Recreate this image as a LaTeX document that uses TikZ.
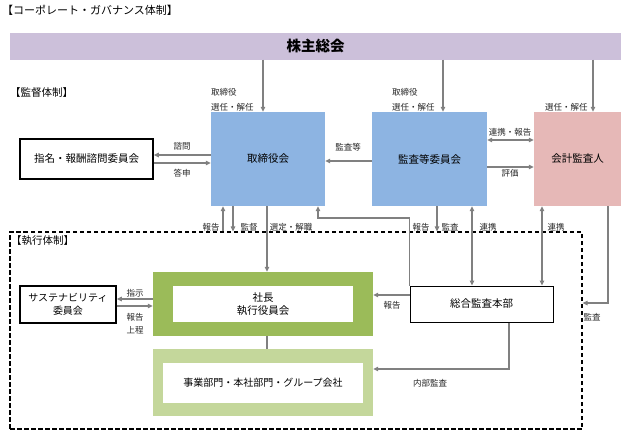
\documentclass[tikz,border=0pt]{standalone}
\usepackage{fontspec}
\setmainfont{Noto Sans CJK JP}
\usetikzlibrary{arrows.meta}
\definecolor{soukaiPurple}{RGB}{204,192,218}
\definecolor{boardBlue}{RGB}{141,180,226}
\definecolor{auditPink}{RGB}{230,184,183}
\definecolor{execGreen}{RGB}{155,187,89}
\definecolor{bizGreen}{RGB}{196,215,155}
\definecolor{arrowGray}{RGB}{128,128,128}
\tikzset{
  box/.style={rectangle, inner sep=0pt, align=center, font=\fontsize{10.5}{13}\selectfont},
  lbl/.style={inner sep=0pt, align=left, text=black!85, font=\fontsize{8.5}{13}\selectfont},
  grayline/.style={draw=arrowGray, line width=1.1pt},
  grayarrow/.style={grayline, -{Triangle[length=5pt,width=4.5pt]}},
  graydouble/.style={grayline, {Triangle[length=5pt,width=4.5pt]}-{Triangle[length=5pt,width=4.5pt]}}
}
\newcommand{\grayArrow}{\draw[grayarrow]}
\newcommand{\grayBoth}{\draw[graydouble]}
\newcommand{\grayLine}{\draw[grayline]}

\begin{document}
\begin{tikzpicture}[x=1pt,y=-1pt]
      \useasboundingbox (0,0) rectangle (629,437);

      % Title and the shareholders bar across the top
      \node[anchor=west, inner sep=0pt, font=\fontsize{11}{12}\selectfont] (title) at (2,10) {【コーポレート・ガバナンス体制】};
      \node[box, fill=soukaiPurple, minimum width=611, minimum height=27, font=\fontsize{14.5}{16}\selectfont\bfseries] (soukai) at (315.5,46) {株主総会};

      % Supervisory side
      \node[anchor=west, inner sep=0pt, font=\fontsize{10.5}{12}\selectfont] (kantoku) at (10,93) {【監督体制】};
      \node[box, fill=boardBlue, minimum width=114, minimum height=94] (board) at (268,159) {取締役会};
      \node[box, fill=boardBlue, minimum width=115, minimum height=94] (auditcom) at (429.5,159) {監査等委員会};
      \node[box, fill=auditPink, minimum width=87, minimum height=94] (accountant) at (577.5,159) {会計監査人};
      \node[box, draw, line width=1.5pt, minimum width=133, minimum height=40] (advisory) at (86.5,159) {指名・報酬諮問委員会};

      % Executive side, inside the dashed frame
      \node[draw, line width=1.2pt, dash pattern=on 4.5pt off 2.5pt, minimum width=572, minimum height=197] (execframe) at (296,330.5) {};
      \node[anchor=west, inner sep=0pt, font=\fontsize{10.5}{12}\selectfont] (shikkou) at (11,241) {【執行体制】};

      \node[box, fill=execGreen, minimum width=220, minimum height=64] (ceoframe) at (263,304) {};
      \node[box, fill=white, minimum width=180, minimum height=36] (ceo) at (263,304) {社長\\執行役員会};

      \node[box, fill=bizGreen, minimum width=220, minimum height=67] (bizframe) at (263,382.5) {};
      \node[box, fill=white, minimum width=200, minimum height=40, font=\fontsize{10}{12}\selectfont] (biz) at (263,383) {事業部門・本社部門・グループ会社};

      \node[box, draw, line width=1.5pt, minimum width=96, minimum height=37, font=\fontsize{10}{13}\selectfont] (sustain) at (68,304.5) {サステナビリティ\\委員会};
      \node[box, draw, line width=1pt, minimum width=143, minimum height=36] (intaudit) at (481.5,304) {総合監査本部};

      %% Elections by the shareholders
      \grayArrow (263,0 |- soukai.south) -- (263,0 |- board.north);
      \node[lbl, anchor=west] (lblElect1) at (211,99.5) {取締役\\[2pt]選任・解任};
      \grayArrow (443,0 |- soukai.south) -- (443,0 |- auditcom.north);
      \node[lbl, anchor=west] (lblElect2) at (392,99.5) {取締役\\[2pt]選任・解任};
      \grayArrow (593,0 |- soukai.south) -- (593,0 |- accountant.north);
      \node[lbl, anchor=west] (lblElect3) at (545,107) {選任・解任};

      %% Between the three supervisory boxes
      \grayArrow (auditcom.west |- 0,161) -- (board.east |- 0,161);
      \node[lbl] (lblAudit) at (348,147) {監査等};
      \grayBoth (auditcom.east |- 0,140) -- (accountant.west |- 0,140);
      \node[lbl] (lblLink) at (510,132) {連携・報告};
      \grayArrow (auditcom.east |- 0,167) -- (accountant.west |- 0,167);
      \node[lbl] (lblEval) at (510,173) {評価};

      %% Advisory committee
      \grayArrow (board.west |- 0,155) -- (advisory.east |- 0,155);
      \node[lbl] (lblConsult) at (182,146) {諮問};
      \grayArrow (advisory.east |- 0,163) -- (board.west |- 0,163);
      \node[lbl] (lblReply) at (182,173) {答申};

      %% Board down to the executive side
      \grayArrow (223,0 |- execframe.north) -- (223,0 |- board.south);
      \node[lbl] (lblReport1) at (211,227) {報告};
      \grayArrow (233,0 |- board.south) -- (233,0 |- execframe.north);
      \node[lbl] (lblSupervise) at (249,227) {監督};
      \grayArrow (267,0 |- board.south) -- (267,0 |- ceoframe.north);
      \node[lbl] (lblAppoint) at (291,227) {選定・解職};

      % Internal audit reports back up to the board
      \grayArrow (intaudit.north west) -- (intaudit.north west |- 0,218) -| (318,0 |- board.south);
      \node[lbl] (lblReport2) at (421,227) {報告};

      %% Audit committee and accountant down to internal audit
      \grayArrow (437,0 |- auditcom.south) -- (437,0 |- execframe.north);
      \node[lbl] (lblAudit2) at (450,227) {監査};
      \grayBoth (472,0 |- auditcom.south) -- (472,0 |- intaudit.north);
      \node[lbl] (lblLink2) at (488,227) {連携};
      \grayBoth (542,0 |- accountant.south) -- (542,0 |- intaudit.north);
      \node[lbl] (lblLink3) at (556,227) {連携};
      \grayArrow (608,0 |- accountant.south) |- (execframe.east |- 0,303);
      \node[lbl] (lblAudit3) at (592,317) {監査};

      %% Inside the executive frame
      \grayArrow (intaudit.west |- 0,295) -- (ceoframe.east |- 0,295);
      \node[lbl] (lblReport3) at (392,305) {報告};
      \grayArrow (509,0 |- intaudit.south) |- (bizframe.east |- 0,369);
      \node[lbl] (lblInternal) at (430,383) {内部監査};
      \grayLine (267,0 |- ceoframe.south) -- (267,0 |- bizframe.north);

      \grayArrow (ceoframe.west |- 0,299) -- (sustain.east |- 0,299);
      \node[lbl] (lblOrder) at (135,293) {指示};
      \grayArrow (sustain.east |- 0,306) -- (ceoframe.west |- 0,306);
      \node[lbl] (lblSubmit) at (135,323.5) {報告\\上程};

    \end{tikzpicture}
\end{document}
